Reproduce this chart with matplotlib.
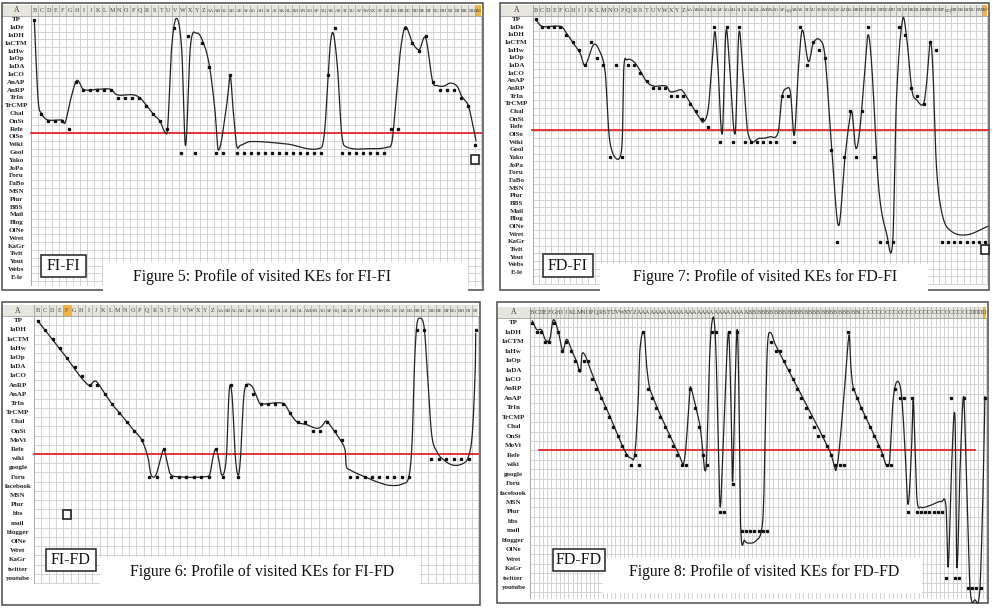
import numpy as np
import matplotlib.pyplot as plt
from matplotlib.patches import Rectangle

W, H = 1000, 614

# ---- data: row index (0 = TP) of each visited KE, in visit order ----
rows_fi = ["TP", "IaDe", "IaDH", "IaCTM", "IaHw", "IaOp", "IaDA", "IaCO", "AnAP", "AnRP",
           "TrIn", "TrCMP", "Chal", "OnSt", "Refe", "OlSo", "Wiki", "Gool", "Yako", "JoPa",
           "Foru", "FaBo", "MSN", "Plur", "BBS", "Mail", "Blog", "OlNe", "Wret", "KaGr",
           "Twit", "Yout", "Webs", "E-le"]
rows_fd = ["TP", "IaDH", "IaCTM", "IaHw", "IaOp", "IaDA", "IaCO", "AnRP", "AnAP", "TrIn",
           "TrCMP", "Chal", "OnSt", "MoVi", "Refe", "wiki", "google", "Foru", "facebook", "MSN",
           "Plur", "bbs", "mail", "blogger", "OlNe", "Wret", "KaGr", "twitter", "youtube"]

fifi_pts = [0, 12, 13, 13, 13, 14, 8, 9, 9, 9, 9, 9, 10, 10, 10, 10, 11, 12, 13, 14,
            1, 17, 2, 17, 3, 6, 17, 17, 7, 17, 17, 17, 17, 17, 17, 17, 17, 17, 17, 17,
            17, 17, 7, 1, 17, 17, 17, 17, 17, 17, 17, 14, 14, 1, 3, 4, 2, 8, 9, 9,
            9, 10, 11, 16]
fifi_cx = [0, 0.55, 1.05, 1.5, 2, 3, 4, 4.4, 5.3, 6.1, 7, 9, 10.9, 11.8, 14.1, 15.1, 16.06,
           17, 17.96, 18.7, 19.06, 19.6, 20.3, 21.06, 21.6, 22.3, 23.2, 24.1, 25, 25.8, 26.3,
           27.4, 28, 28.4, 28.9, 29.4, 30.8, 36, 41, 41.5, 42, 42.3, 42.7, 43.3, 43.9, 44.4,
           48, 50.5, 51.1, 51.6, 52.3, 53, 54, 55, 55.9, 56.9, 57.5, 58.5, 59.4, 60.4, 61.06,
           62, 62.7, 63.1]
fifi_cy = [0, 10.3, 12.0, 12.6, 12.85, 12.85, 12.85, 13.2, 9.8, 7.75, 8.9, 8.9, 8.9, 9.6, 9.6,
           10, 11, 12.1, 13, 14.45, 13.7, 3.8, -0.2, 3.8, 16.1, 3.4, 1.7, 2.8, 5.8, 11.5, 16.7,
           11.5, 7.3, 11.5, 16.1, 16.1, 15.6, 15.9, 16.4, 14, 6.9, 3, 1.7, 6, 14.5, 16.2,
           16.5, 16.3, 15.6, 11, 4, 0.9, 2.9, 3.8, 2.3, 7.9, 8.4, 8.5, 8.1, 8.5, 9.8,
           11, 13.7, 15.5]

fdfi_pts = [0, 1, 1, 1, 1, 2, 3, 4, 6, 3, 5, 6, 18, 6, 18, 6, 6, 7, 8, 9,
            9, 9, 10, 10, 10, 11, 12, 13, 14, 1, 16, 1, 16, 1, 16, 16, 16, 16, 16, 16,
            10, 10, 16, 1, 6, 3, 4, 5, 17, 29, 18, 12, 18, 12, 1, 18, 29, 29, 29, 1,
            2, 9, 10, 11, 3, 4, 29, 29, 29, 29, 29, 29, 29, 29]
fdfi_cx = [0, 0.7, 1.3, 4.2, 5, 6.1, 7.2, 8, 9.4, 10.3, 11.3, 11.8, 12.2, 13, 13.8, 14.1, 14.3,
           14.8, 15.9, 16.9, 18, 19.1, 21.2, 21.8, 22.6, 23.7, 24.5, 25.6, 26.7, 27.2, 28, 28.6,
           29.1, 29.6, 30.3, 30.9, 31.5, 32.4, 33, 33.6, 34.5, 36.4, 38, 39.4, 40, 40.8, 41.4,
           42, 42.7, 43.3, 44.3, 45.1, 46.2, 47, 48.1, 49.2, 50.2, 51.1, 51.4, 52, 52.7, 53.5,
           54, 54.6, 55.7, 57, 58, 58.6, 59.6, 60.3, 61.1, 61.9, 63, 63.5, 64.1, 64.5, 65.1,
           66, 67.3, 70, 73.4]
fdfi_cy = [0, 0.75, 0.96, 0.96, 1.8, 3.1, 4.4, 6, 3.3, 4, 7, 14, 16.6, 18.1, 17.7, 14.9, 6.5,
           5.3, 5.5, 6.6, 8.1, 8.7, 8.7, 9.4, 9.4, 9.2, 10.1, 11.6, 12.9, 13.4, 11.8, 6.2,
           1.6, 6.2, 14.9, 1.6, 6.2, 14.9, 1.8, 6.2, 14.9, 15.5, 15.3, 14.7, 10.1, 9, 9.6,
           15.1, 6.2, 1.4, 5.5, 3.1, 2.7, 4.9, 17, 26.9, 18.3, 12.5, 12.2, 16.8, 14, 6.2,
           2, 6.2, 21.8, 27.9, 28.9, 10.5, 0, 2.7, 9.2, 10.5, 11, 8.3, 2.9, 6.2, 19.2,
           25.3, 27.5, 28.1, 27]

fifd_pts = [0, 1, 2, 3, 4, 5, 6, 7, 7, 8, 9, 10, 11, 12, 13, 17, 17, 14, 17, 17,
            17, 17, 17, 17, 14, 17, 7, 17, 7, 8, 9, 9, 9, 9, 10, 11, 11, 12, 12, 11,
            12, 13, 17, 17, 17, 17, 17, 17, 17, 17, 17, 1, 1, 15, 15, 15, 15, 15, 15, 1]
fifd_cx = [0, 3.4, 6.8, 7.7, 8.2, 9.06, 10.2, 11.1, 12, 12.9, 13.8, 14.4, 14.9, 15.2, 15.6, 16,
           16.5, 17, 17.4, 17.8, 18.7, 22.7, 23.2, 23.6, 24, 24.3, 24.8, 25.4, 25.7, 25.9,
           26.2, 26.6, 27, 27.3, 27.7, 28, 28.8, 29.5, 29.9, 33.1, 34, 34.9, 36.2, 37.5, 38.2,
           38.8, 39.3, 40, 40.9, 41.4, 41.5, 42, 43.8, 45.6, 47.4, 49.2, 50, 50.4, 50.7, 51,
           51.4, 52, 52.4, 53, 53.7, 54.6, 55.9, 57.3, 58, 58.5, 58.9, 58.95]
fifd_cy = [0, 3.5, 7, 6.55, 6.9, 7.97, 9.27, 10.1, 11, 11.9, 12.7, 13.7, 15.1, 16.6, 17, 16.6,
           15.1, 14, 15.3, 16.6, 16.95, 16.95, 16.6, 14.8, 13.9, 14.8, 16.8, 14.8, 8.6, 7,
           8.6, 14.8, 16.8, 14.8, 8.6, 7.1, 7.1, 8.3, 9, 9, 10.1, 11, 11.3, 11.7, 11.5,
           10.9, 11.3, 12.1, 13.2, 14.2, 15.7, 16.2, 16.9, 17.5, 17.9, 17.7, 16.8, 13, 5, 0.65,
           -0.26, 0.65, 5, 12.2, 14.2, 15.1, 15.7, 15.5, 14.7, 12.2, 5, 1.4]

fdfd_pts = [0, 1, 1, 2, 2, 0, 1, 3, 2, 3, 4, 5, 4, 4, 6, 7, 8, 9, 10, 11,
            12, 13, 14, 15, 14, 15, 1, 7, 8, 9, 10, 11, 12, 13, 14, 15, 15, 7, 9, 11,
            14, 15, 1, 1, 20, 20, 1, 17, 1, 22, 22, 22, 22, 22, 22, 22, 2, 3, 3, 4,
            5, 6, 7, 8, 9, 10, 11, 12, 12, 13, 14, 15, 15, 15, 1, 7, 8, 9, 10, 11,
            12, 13, 14, 15, 15, 7, 8, 8, 20, 8, 20, 20, 20, 20, 20, 20, 20, 27, 8, 27,
            27, 8, 28, 28, 28, 28, 8]
fdfd_cx = [0, 1, 2.2, 3, 4.1, 4.9, 6.1, 7.1, 8.05, 9.2, 10.4, 11.3, 11.6, 12.3, 13.5, 15.9,
           18.2, 20.5, 22.1, 23.1, 24, 24.8, 25.2, 26.2, 26.8, 27.6, 34.6, 35.4, 36, 36.9,
           37.1, 38.3, 39.3, 40, 40.4, 40.8, 41.6, 42.4, 43, 43.6, 44, 44.6, 45.4, 46, 46.5,
           46.9, 47.4, 48, 48.4, 48.8, 49.7, 51, 52.5, 53.7, 54.2, 54.7, 55.1, 55.8, 56.8,
           69.7, 70.9, 71.1, 71.7, 72.9, 74.2, 74.6, 75.2, 81.8, 82.8, 83.2, 83.7, 84.5, 85.5,
           86.5, 87.3, 88, 88.8, 89.2, 89.6, 90.1, 90.9, 93.2, 95.9, 96.9, 97.4, 98.2, 99,
           99.4, 100.2, 101, 101.6, 102.5, 103.7, 104.8, 105.5, 106]
fdfd_cy = [-0.2, 0.7, 0.77, 1.75, 1.75, -0.3, 0.95, 2.9, 1.75, 2.9, 4.1, 5.2, 3.4, 3.4, 4.8,
           7.6, 9.9, 12.4, 13.9, 14.3, 13.9, 8.2, 2.9, 1.1, 4.65, 7.1, 14.2, 14.9, 13, 7.1,
           6.8, 8.9, 11, 13.9, 15.6, 14.5, 2.9, -0.6, 2.9, 13.5, 19.5, 14, 5, 1.1, 8,
           16.8, 8, 0.7, 8, 21.6, 23, 23.3, 23, 21.9, 18.7, 8.2, 2.2, 1.05, 2.2,
           13.6, 15.4, 15.6, 14.2, 8.2, 1.3, 4.65, 6.9, 13.6, 15, 15.1, 14.5, 8.2, 6.2,
           7.8, 13.5, 19.2, 13.5, 8.2, 13, 18.7, 19.5, 19.3, 18.9, 19.5, 25.8, 15.2, 10.1,
           25.8, 15.2, 7.8, 15.2, 27.9, 29.3, 28.3, 18.7, 7.8]

# ---- layout of the four spreadsheet screenshots (pixels) ----
panels = [
    dict(box=(2, 3, 483, 290), labx=31, head=(5, 16), rh=7.8, cw=7.05, gright=481, gbot=285,
         x0=34.3, dx=7.0, red=14.5, redx=(31, 481), orange=[63], rows=rows_fi,
         pts=fifi_pts, cx=fifi_cx, cy=fifi_cy, tag="FI-FI", tagbox=(41, 255, 86, 277),
         cap="Figure 5: Profile of visited KEs for FI-FI", capbox=(103, 262, 468, 300),
         capx=133, capy=277, sq=(471, 155)),
    dict(box=(500, 3, 989, 290), labx=533, head=(5, 15.5), rh=7.67, cw=6.15, gright=987, gbot=284,
         x0=535.7, dx=6.156, red=14.4, redx=(532, 988), orange=[73], rows=rows_fi,
         pts=fdfi_pts, cx=fdfi_cx, cy=fdfi_cy, tag="FD-FI", tagbox=(543, 254, 593, 277),
         cap="Figure 7: Profile of visited KEs for FD-FI", capbox=(600, 264, 928, 300),
         capx=633, capy=277, sq=(981, 245)),
    dict(box=(2, 302, 480, 605), labx=34, head=(305, 316.1), rh=9.2, cw=7.3, gright=478, gbot=583,
         x0=37.7, dx=7.43, red=14.5, redx=(34, 478), orange=[4], rows=rows_fd,
         pts=fifd_pts, cx=fifd_cx, cy=fifd_cy, tag="FI-FD", tagbox=(46, 549, 96, 571),
         cap="Figure 6: Profile of visited KEs for FI-FD", capbox=(100, 557, 420, 603),
         capx=130, capy=572, sq=(63, 510)),
    dict(box=(497, 302, 988, 603), labx=530, head=(307, 318), rh=9.46, cw=4.27, gright=986, gbot=598,
         x0=532.3, dx=4.27, red=13.5, redx=(539, 975), orange=[106], rows=rows_fd,
         pts=fdfd_pts, cx=fdfd_cx, cy=fdfd_cy, tag="FD-FD", tagbox=(553, 549, 605, 571),
         cap="Figure 8: Profile of visited KEs for FD-FD", capbox=(603, 558, 922, 593),
         capx=629, capy=572, sq=None),
]


def col_name(n):
    s = ""
    n += 1
    while n:
        n, r = divmod(n - 1, 26)
        s = chr(65 + r) + s
    return s


def smooth(xs, ys, k=16):
    # cubic Hermite through the knots (like Excel's smoothed line),
    # tangents from the neighbouring knots
    xs = np.asarray(xs, float)
    ys = np.asarray(ys, float)
    m = np.empty_like(ys)
    m[1:-1] = (ys[2:] - ys[:-2]) / (xs[2:] - xs[:-2])
    m[0] = (ys[1] - ys[0]) / (xs[1] - xs[0])
    m[-1] = (ys[-1] - ys[-2]) / (xs[-1] - xs[-2])
    outx, outy = [], []
    for i in range(len(xs) - 1):
        h = xs[i + 1] - xs[i]
        t = np.linspace(0, 1, k, endpoint=False)
        h00 = 2*t**3 - 3*t**2 + 1
        h10 = t**3 - 2*t**2 + t
        h01 = -2*t**3 + 3*t**2
        h11 = t**3 - t**2
        outx.append(xs[i] + t*h)
        outy.append(h00*ys[i] + h10*h*m[i] + h01*ys[i + 1] + h11*h*m[i + 1])
    outx.append([xs[-1]])
    outy.append([ys[-1]])
    return np.concatenate(outx), np.concatenate(outy)


fig = plt.figure(figsize=(10, 6.14), dpi=100)
bg = fig.add_axes([0, 0, 1, 1])
bg.set_xlim(0, W)
bg.set_ylim(H, 0)
bg.axis('off')

for p in panels:
    l, t, r, b = p['box']
    lx = p['labx']
    ht, hb = p['head']
    rh, cw = p['rh'], p['cw']
    gr, gb = p['gright'], p['gbot']

    # header row
    bg.add_patch(Rectangle((l + 1, ht), gr - l - 1, hb - ht, fc='#e6e6de', ec='none', zorder=1))
    bg.text((l + lx) / 2, (ht + hb) / 2, "A", fontsize=5.5, family='Liberation Serif',
            ha='center', va='center', color='#333333', zorder=3)
    ncol = int(np.ceil((gr - lx) / cw))
    for i in range(ncol):
        xa = lx + i * cw
        xb = min(xa + cw, gr)
        if i in p['orange']:
            bg.add_patch(Rectangle((xa, ht), xb - xa, hb - ht, fc='#f2b24a', ec='none', zorder=2))
        name = col_name(i + 1)
        if cw < 5:
            name = name[0]
        bg.text((xa + xb) / 2, (ht + hb) / 2, name, fontsize=3.6 if len(name) > 1 else 4.4,
                family='Liberation Serif', ha='center', va='center', color='#444444', zorder=3)
        bg.plot([xa, xa], [ht, hb], color='#a4a49c', lw=0.5, zorder=2)
        bg.plot([xa, xa], [hb, gb], color='#cccccc', lw=0.6, zorder=1)
    bg.plot([gr, gr], [hb, gb], color='#cccccc', lw=0.6, zorder=1)
    bg.plot([l, gr], [hb, hb], color='#a4a49c', lw=0.6, zorder=2)
    y = hb
    while y <= gb + 0.1:
        bg.plot([lx, gr], [y, y], color='#cccccc', lw=0.6, zorder=1)
        y += rh
    bg.plot([lx, lx], [ht, gb], color='#a4a49c', lw=0.6, zorder=2)

    # row labels
    for j, name in enumerate(p['rows']):
        bg.text((l + lx) / 2, hb + rh * (j + 0.5), name, fontsize=5, family='Liberation Serif',
                weight='bold', ha='center', va='center', color='#222222', zorder=3)

    # frame
    bg.add_patch(Rectangle((l, t), r - l, b - t, fill=False, ec='#4a4a4a', lw=1.1, zorder=4))

    # caption area and tag box
    cl, ct, cr, cb = p['capbox']
    bg.add_patch(Rectangle((cl, ct), cr - cl, cb - ct, fc='white', ec='none', zorder=5))
    bg.text(p['capx'], p['capy'], p['cap'], fontsize=11.3, family='Liberation Serif',
            ha='left', va='center', color='#111111', zorder=6)
    al, at, ar, ab = p['tagbox']
    bg.add_patch(Rectangle((al, at), ar - al, ab - at, fc='white', ec='#222222', lw=1.1, zorder=6))
    bg.text((al + ar) / 2, (at + ab) / 2 + 0.5, p['tag'], fontsize=11.5, family='Liberation Serif',
            ha='center', va='center', color='#111111', zorder=7)
    if p['sq']:
        bg.add_patch(Rectangle(p['sq'], 8, 9, fc='white', ec='#222222', lw=1.2, zorder=6))

    # the chart itself: visited KEs as dots plus the smoothed line
    pts = p['pts']
    n = len(pts)
    nrow = len(p['rows'])
    xl = p['x0']
    xr = p['x0'] + p['dx'] * (n - 1)
    ax = fig.add_axes([xl / W, 1 - (hb + rh * nrow) / H, (xr - xl) / W, rh * nrow / H])
    ax.set_xlim(0, n - 1)
    ax.set_ylim(nrow - 0.5, -0.5)
    ax.axis('off')
    ax.patch.set_alpha(0)
    ra = (p['redx'][0] - xl) / p['dx']
    rb = (p['redx'][1] - xl) / p['dx']
    ax.plot([ra, rb], [p['red'], p['red']], color='#e8262a', lw=1.3, clip_on=False, zorder=2)
    sx, sy = smooth(p['cx'], p['cy'])
    ax.plot(sx, sy, color='#222222', lw=0.9, clip_on=False, zorder=3)
    ax.plot(np.arange(n), pts, ls='none', marker='s', ms=1.4, color='#111111',
            clip_on=False, zorder=4)

plt.savefig("out.png", dpi=100)
